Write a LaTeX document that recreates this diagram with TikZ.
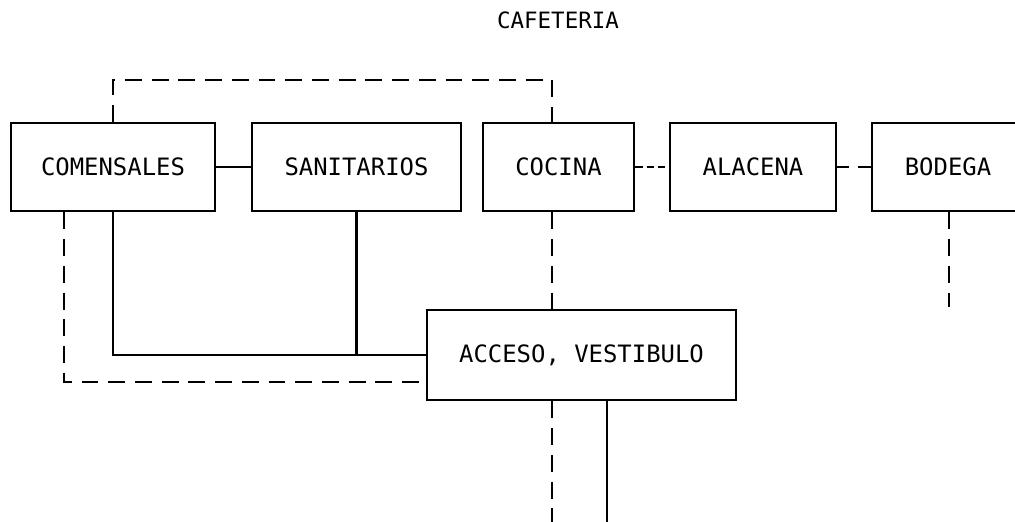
\documentclass[tikz,border=0pt]{standalone}
\usepackage{fontspec}
\setmonofont{DejaVu Sans Mono}
\usepackage{tikz}
\usetikzlibrary{calc}

\begin{document}
\begin{tikzpicture}[x=0.025cm, y=0.025cm, line width=2.1pt,
  every node/.style={font=\ttfamily\fontsize{17}{20}\selectfont},
  area/.style={draw, rectangle, minimum height=88*0.025cm, inner sep=0pt},
  ligadash/.style={dash pattern=on 12pt off 7pt},
  ligafina/.style={dash pattern=on 5pt off 3pt},
  ligarota/.style={dash pattern=on 8.5pt off 6.4pt on 11pt off 5pt}]
\useasboundingbox (0,0) rectangle (1015,-521);
\clip (0,0) rectangle (1015,-521);
\node[font=\ttfamily\fontsize{16}{19}\selectfont] (titulo) at (558,-20) {CAFETERIA};
\node[area, minimum width=204*0.025cm] (comensales) at (113,-167) {COMENSALES};
\node[area, minimum width=209*0.025cm] (sanitarios) at (356.5,-167) {SANITARIOS};
\node[area, minimum width=151*0.025cm] (cocina) at (558.5,-167) {COCINA};
\node[area, minimum width=166*0.025cm] (alacena) at (753,-167) {ALACENA};
\node[area, minimum width=152*0.025cm] (bodega) at (948,-167) {BODEGA};
\node[area, minimum width=309*0.025cm, minimum height=90*0.025cm] (acceso) at (581.5,-355) {ACCESO, VESTIBULO};
\coordinate (arriba) at (552,-80);
\coordinate (rodeo) at (64,-382);
\coordinate (salida) at (552,-525);
\coordinate (calle) at (607,-525);
\coordinate (deposito) at (949,-307);
\draw (comensales.east) -- (sanitarios.west);
\draw[ligafina] (cocina.east) -- (alacena.west);
\draw[ligarota] (alacena.east) -- (bodega.west);
\draw[ligadash] (comensales.north) |- (arriba) -- (arriba |- cocina.north);
\draw (comensales.south) |- (acceso.west);
\draw (sanitarios.south) -- (sanitarios.south |- acceso.west);
\draw[ligadash] (rodeo |- comensales.south) |- (rodeo -| acceso.west);
\draw[ligadash] (arriba |- cocina.south) -- (arriba |- acceso.north);
\draw[ligadash] (salida |- acceso.south) -- (salida);
\draw (calle |- acceso.south) -- (calle);
\draw[ligadash] (deposito |- bodega.south) -- (deposito);
\end{tikzpicture}
\end{document}
